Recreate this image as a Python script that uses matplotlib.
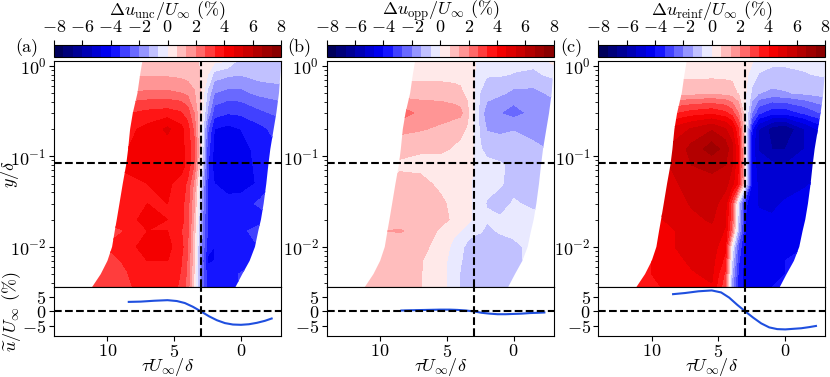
import numpy as np
import matplotlib.pyplot as plt
from matplotlib.patches import Polygon

plt.rcParams.update({
    'font.family': 'serif',
    'font.serif': ['cmr10', 'DejaVu Serif'],
    'mathtext.fontset': 'cm',
    'axes.formatter.use_mathtext': True,
    'font.size': 13,
})

# grid of the maps: columns in tau U/delta, rows in y/delta (top to bottom)
tau = [12, 10, 8.5, 7, 5.5, 4.5, 4, 3.5, 3, 2.5, 2, 1, 0, -1.5, -3]
y_rows = [1.2, 0.8, 0.5, 0.3, 0.2, 0.12, 0.08, 0.05, 0.03, 0.02, 0.015, 0.01, 0.007, 0.005, 0.0035]

# edges of the measured region at each row
edge_left = [7.35, 7.55, 7.75, 8.1, 8.3, 8.45, 8.6, 8.85, 9.1, 9.3, 9.45, 9.65, 10.0, 10.5, 11.2]
edge_right = [-3.05, -2.95, -2.85, -2.65, -2.45, -2.2, -2.05, -1.9, -1.7, -1.5, -1.3, -1.05, -0.65, -0.1, 0.45]

du_unc = [
    [0.9, 0.9, 0.9, 0.9, 0.9, 0.9, 0.9, 0.8, 0.6, 0.5, 0.4, 0.3, -0.8, -0.8, -0.8],
    [1.2, 1.2, 1.2, 1.2, 1.2, 1.1, 1.0, 0.9, 0.6, 0.0, -0.9, -1.2, -1.3, -1.0, -1.0],
    [2.0, 2.0, 2.0, 2.1, 2.1, 2.0, 1.8, 1.4, 0.6, -0.8, -2.0, -2.2, -2.2, -1.8, -1.6],
    [3.3, 3.3, 3.3, 3.5, 3.6, 3.4, 3.0, 2.0, 0.5, -1.5, -3.0, -3.3, -3.2, -2.8, -2.5],
    [3.8, 3.8, 3.8, 4.2, 4.8, 4.2, 3.6, 2.5, 0.3, -2.5, -4.0, -4.2, -4.0, -3.5, -3.0],
    [4.0, 4.0, 4.0, 4.2, 4.4, 4.2, 3.8, 2.8, 0.4, -3.0, -4.2, -4.4, -4.2, -3.8, -3.3],
    [4.0, 4.0, 4.2, 4.4, 4.6, 4.3, 3.8, 2.6, 0.2, -3.2, -4.3, -4.5, -4.3, -3.8, -3.3],
    [3.5, 3.5, 3.8, 4.0, 4.1, 3.8, 3.2, 1.8, -0.8, -3.3, -4.0, -4.3, -4.5, -3.8, -3.0],
    [3.2, 3.2, 3.6, 4.0, 4.0, 3.6, 3.0, 1.4, -1.2, -3.4, -3.8, -3.8, -3.6, -3.2, -3.0],
    [3.5, 3.5, 3.8, 4.2, 4.0, 3.6, 3.0, 1.2, -1.5, -3.5, -3.9, -3.8, -3.7, -3.6, -3.2],
    [3.0, 3.0, 3.4, 4.0, 4.0, 3.4, 2.8, 1.0, -1.6, -3.4, -3.8, -3.7, -3.5, -3.0, -3.0],
    [3.4, 3.4, 3.6, 4.5, 4.2, 3.6, 2.8, 0.8, -1.8, -3.6, -4.0, -3.8, -3.6, -3.3, -3.0],
    [3.0, 3.0, 3.5, 4.0, 4.0, 3.4, 2.6, 0.8, -2.0, -4.2, -4.0, -3.8, -3.6, -3.3, -3.0],
    [3.0, 3.0, 3.3, 4.0, 3.8, 3.3, 2.5, 0.6, -2.0, -3.6, -3.7, -3.5, -3.3, -3.0, -3.0],
    [2.8, 2.8, 3.2, 3.7, 3.7, 3.2, 2.4, 0.5, -2.0, -3.5, -3.6, -3.5, -3.3, -3.0, -3.0],
]

du_opp = [
    [0.4, 0.4, 0.4, 0.4, 0.4, 0.4, 0.4, 0.3, 0.1, -0.3, -0.4, -0.4, -0.4, -0.4, 0.4],
    [0.5, 0.5, 0.5, 0.4, 0.4, 0.4, 0.4, 0.3, 0.1, -0.4, -0.6, -0.6, -0.7, -0.8, -0.5],
    [0.9, 0.9, 0.9, 1.0, 1.0, 0.9, 0.8, 0.5, 0.1, -0.7, -1.0, -1.2, -1.5, -1.5, -1.2],
    [1.7, 1.7, 2.4, 1.8, 1.7, 1.6, 1.5, 0.9, 0.1, -1.0, -1.7, -2.0, -2.3, -1.8, -1.6],
    [1.2, 1.2, 1.5, 1.4, 1.2, 1.0, 0.9, 0.6, 0.0, -0.8, -1.4, -1.5, -1.4, -1.6, -1.4],
    [0.9, 0.9, 1.0, 0.8, 0.8, 0.6, 0.5, 0.3, 0.0, -0.6, -0.9, -1.0, -0.9, -1.2, -1.4],
    [0.5, 0.5, 0.5, 0.4, 0.4, 0.3, 0.3, 0.2, 0.0, -0.4, -0.5, -0.6, -0.8, -1.0, -1.0],
    [0.6, 0.6, 0.9, 0.9, 0.5, 0.4, 0.4, 0.2, -0.1, -0.4, -0.5, -0.6, -0.9, -1.0, -0.9],
    [0.9, 0.9, 1.1, 1.0, 0.8, 0.5, 0.4, 0.2, -0.1, -0.5, -0.7, -0.9, -0.6, -0.8, -0.6],
    [0.8, 0.8, 0.9, 0.9, 0.8, 0.6, 0.5, 0.3, -0.1, -0.5, -0.6, -0.6, -0.5, -0.5, -0.5],
    [1.3, 1.3, 1.4, 1.0, 0.6, 0.2, 0.0, -0.3, -0.5, -0.6, -0.8, -0.6, -0.5, -0.5, -0.5],
    [0.8, 0.8, 0.9, 0.8, 0.5, -0.2, -0.5, -0.8, -1.0, -1.0, -0.9, -0.9, -0.8, -0.5, -0.5],
    [0.7, 0.7, 0.8, 0.7, 0.4, -0.4, -0.6, -0.9, -1.1, -1.0, -1.1, -1.0, -0.8, -0.5, -0.5],
    [0.7, 0.7, 0.8, 0.7, 0.3, -0.3, -0.7, -0.9, -1.0, -1.1, -1.0, -0.9, -0.8, -0.6, -0.5],
    [0.7, 0.7, 0.8, 0.7, 0.3, -0.3, -0.7, -0.8, -0.9, -1.0, -0.9, -0.8, -0.6, -0.6, -0.5],
]

du_reinf = [
    [0.4, 0.4, 0.4, 0.4, 0.4, 0.4, 0.4, 0.4, 0.3, 0.2, -0.3, -0.5, -0.5, -0.5, -0.4],
    [0.5, 0.5, 0.5, 0.5, 0.5, 0.5, 0.5, 0.4, 0.2, -0.3, -0.7, -0.8, -0.8, -0.7, -0.6],
    [1.0, 1.0, 1.0, 1.0, 1.1, 1.0, 0.9, 0.6, 0.1, -0.8, -1.3, -1.5, -1.4, -1.2, -1.0],
    [3.0, 3.0, 3.2, 3.6, 3.8, 3.5, 3.0, 2.0, 0.2, -2.0, -3.2, -3.8, -3.8, -3.2, -2.5],
    [4.5, 4.5, 4.8, 5.4, 5.9, 5.4, 4.8, 3.4, 0.3, -3.8, -5.3, -6.3, -6.6, -5.3, -4.2],
    [5.0, 5.0, 5.5, 6.2, 7.0, 6.4, 5.6, 4.0, 0.2, -4.3, -5.4, -6.0, -6.0, -5.3, -4.5],
    [5.0, 5.0, 5.4, 6.0, 6.2, 6.0, 5.4, 4.0, 0.5, -4.2, -5.0, -5.2, -5.3, -5.0, -4.5],
    [4.8, 4.8, 5.2, 5.6, 5.8, 5.6, 5.0, 3.8, 0.2, -4.2, -4.8, -5.0, -5.0, -4.8, -4.3],
    [4.5, 4.5, 5.0, 5.4, 5.6, 5.0, 3.0, -0.8, -3.8, -4.5, -4.7, -4.8, -4.6, -4.3, -4.0],
    [4.5, 4.5, 4.8, 5.2, 5.4, 4.8, 2.8, -1.0, -4.0, -4.5, -4.6, -4.6, -4.5, -4.2, -4.0],
    [4.2, 4.2, 4.6, 5.0, 5.2, 4.6, 2.4, -1.4, -4.0, -4.4, -4.5, -4.5, -4.3, -4.0, -3.8],
    [4.2, 4.2, 4.6, 5.0, 5.0, 4.2, 0.0, -2.8, -4.2, -4.5, -4.6, -4.4, -4.2, -4.0, -3.8],
    [4.0, 4.0, 4.4, 4.8, 4.9, 3.8, -0.6, -3.2, -4.3, -4.5, -4.5, -4.3, -4.0, -3.8, -3.6],
    [4.0, 4.0, 4.3, 4.6, 4.8, 3.2, -1.2, -3.5, -4.3, -4.4, -4.4, -4.2, -4.0, -3.6, -3.5],
    [3.8, 3.8, 4.2, 4.5, 4.6, 2.8, -1.5, -3.6, -4.2, -4.3, -4.3, -4.0, -3.8, -3.5, -3.3],
]

# wall-averaged profiles for the lower panels
tau_line = [8.4, 7.5, 6.5, 5.5, 4.8, 4.2, 3.6, 3.0, 2.4, 1.8, 1.2, 0.6, 0.0, -0.6, -1.2, -1.8, -2.3]
u_unc = [3.3, 3.4, 3.7, 3.9, 3.6, 2.9, 1.6, 0.0, -1.7, -3.1, -4.1, -4.6, -4.7, -4.5, -4.0, -3.3, -2.5]
u_opp = [0.3, 0.4, 0.5, 0.6, 0.6, 0.5, 0.3, 0.0, -0.5, -0.8, -1.0, -1.0, -0.9, -0.8, -0.6, -0.5, -0.4]
u_reinf = [6.0, 6.4, 7.0, 7.3, 6.6, 4.8, 2.3, 0.0, -2.2, -4.2, -5.6, -6.2, -6.3, -6.1, -5.9, -5.5, -5.1]

fields = [du_unc, du_opp, du_reinf]
lines = [u_unc, u_opp, u_reinf]
names = ['unc', 'opp', 'reinf']
tags = ['(a)', '(b)', '(c)']

levels = np.linspace(-8, 8, 25)
W, H = 830, 377
fig = plt.figure(figsize=(8.3, 3.77), dpi=100)

lefts = [54, 326.7, 598.3]
X, Y = np.meshgrid(tau, y_rows)
outline = np.column_stack([edge_left + edge_right[::-1], y_rows + y_rows[::-1]])

for i in range(3):
    x0 = lefts[i] / W
    w = 227 / W
    ax = fig.add_axes([x0, 1 - 287 / H, w, 226 / H])
    axb = fig.add_axes([x0, 1 - 335.7 / H, w, 48.7 / H])
    cax = fig.add_axes([x0, 1 - 57 / H, w, 12 / H])

    ax.set_yscale('log')
    cs = ax.contourf(X, Y, np.array(fields[i]), levels=levels, cmap='seismic')
    poly = Polygon(outline, closed=True, transform=ax.transData)
    cs.set_clip_path(poly)
    ax.axvline(3, color='k', ls='--', lw=1.5)
    ax.axhline(0.085, color='k', ls='--', lw=1.5)
    ax.set_xlim(14, -3)
    ax.set_ylim(0.0036, 1.13)
    ax.tick_params(axis='x', bottom=False, labelbottom=False)
    ax.tick_params(axis='y', pad=2)

    axb.plot(tau_line, lines[i], color='#1f4fdf', lw=1.5)
    axb.axhline(0, color='k', ls='--', lw=1.5)
    axb.axvline(3, color='k', ls='--', lw=1.5)
    axb.set_xlim(14, -3)
    axb.set_ylim(-8.5, 8.5)
    axb.set_yticks([-5, 0, 5])
    axb.set_xticks([10, 5, 0])
    axb.tick_params(axis='x', pad=2)
    axb.tick_params(axis='y', pad=2)
    axb.set_xlabel(r'$\tau U_\infty/\delta$', labelpad=-3)

    cb = fig.colorbar(cs, cax=cax, orientation='horizontal', ticks=np.arange(-8, 9, 2))
    cax.xaxis.set_ticks_position('top')
    cax.tick_params(axis='x', pad=4)
    fig.text(x0 + w / 2, 1 - 11 / H, r'$\Delta u_{\rm %s}/U_\infty$ (%%)' % names[i],
             ha='center', va='center')

    fig.text((lefts[i] - 27) / W, 1 - 48 / H, tags[i], ha='center', va='center')

    if i == 0:
        ax.set_ylabel(r'$y/\delta$')
        axb.set_ylabel(r'$\widetilde{u}/U_\infty$ (%)')
        ax.yaxis.set_label_coords(-0.145, 0.5)
        axb.yaxis.set_label_coords(-0.135, 0.5)

fig.savefig('out.png', dpi=100)
